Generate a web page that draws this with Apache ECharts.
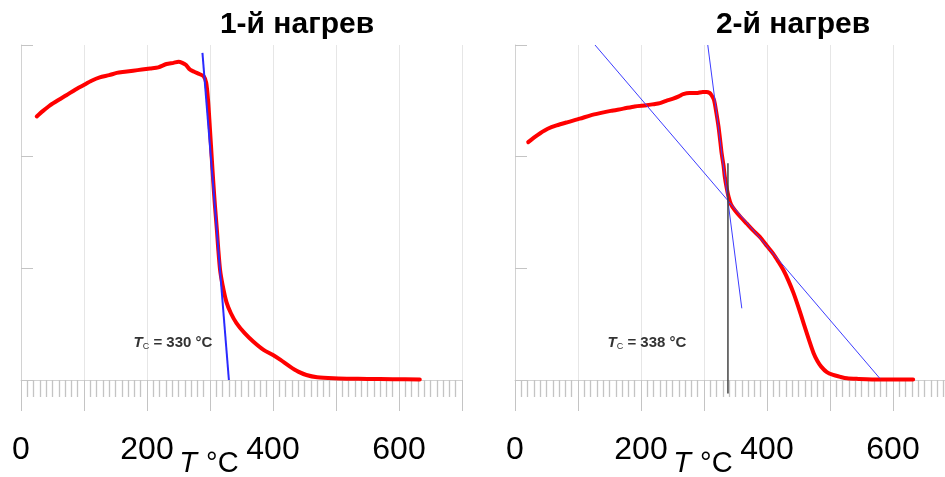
<!DOCTYPE html>
<html>
<head>
<meta charset="utf-8">
<script src="https://cdn.jsdelivr.net/npm/echarts@6/dist/echarts.min.js"></script>
<style>
html,body{margin:0;padding:0;background:#fff;overflow:hidden;width:945px;height:477px;}
#c{width:970px;height:477px;}
</style>
</head>
<body>
<div id="c"></div>
<script>
// ---- data ----
var titles = ['1-й нагрев', '2-й нагрев'];
var xTickLabels = ['0', '200', '400', '600'];
var tcValues = [330, 338];

var heat1T = [25, 35, 46, 60, 72, 86, 99, 112, 125, 140, 152, 165, 178, 192, 205, 218, 231, 242, 250, 256, 262, 268, 275, 283, 290, 294, 297, 300, 303, 305, 308, 311, 313, 316, 320, 326, 333, 342, 355, 369, 385, 400, 412, 427, 440, 453, 470, 496, 520, 550, 590, 633];
var heat1M = [2.36, 2.41, 2.46, 2.51, 2.55, 2.60, 2.64, 2.68, 2.71, 2.73, 2.75, 2.76, 2.77, 2.78, 2.79, 2.80, 2.83, 2.84, 2.85, 2.84, 2.82, 2.78, 2.76, 2.74, 2.72, 2.66, 2.50, 2.24, 1.97, 1.79, 1.55, 1.34, 1.18, 0.985, 0.85, 0.70, 0.60, 0.51, 0.42, 0.343, 0.27, 0.224, 0.18, 0.12, 0.075, 0.045, 0.025, 0.015, 0.012, 0.01, 0.007, 0.005];

var heat2T = [21, 30, 40, 52, 66, 84, 103, 120, 135, 152, 172, 190, 209, 220, 230, 240, 251, 260, 267, 277, 288, 298, 304, 309, 312, 315, 317, 320, 323, 326, 328, 331, 333, 336, 339, 343, 349, 358, 368, 378, 389, 400, 410, 418, 426, 434, 442, 450, 458, 466, 474, 480, 486, 495, 505, 515, 527, 545, 579, 632];
var heat2M = [2.13, 2.17, 2.21, 2.25, 2.28, 2.31, 2.34, 2.37, 2.39, 2.41, 2.43, 2.45, 2.46, 2.47, 2.48, 2.50, 2.52, 2.54, 2.56, 2.57, 2.57, 2.58, 2.58, 2.57, 2.55, 2.52, 2.48, 2.38, 2.27, 2.13, 2.03, 1.92, 1.82, 1.72, 1.64, 1.57, 1.52, 1.46, 1.40, 1.34, 1.28, 1.20, 1.13, 1.06, 0.985, 0.89, 0.78, 0.65, 0.51, 0.37, 0.24, 0.17, 0.12, 0.07, 0.045, 0.03, 0.015, 0.01, 0.005, 0.005];

var tangent1 = [[288, 2.93], [330, 0]];
var tangent2a = [[306, 3.0], [360, 0.642]];
var tangent2b = [[127, 3.0], [579, 0.015]];
var curieLine2 = [[338, 1.94], [338, -0.12]];

function zip(a, b) { return a.map(function (v, i) { return [v, b[i]]; }); }

var chart = echarts.init(document.getElementById('c'), null, {renderer: 'canvas'});
var FONT = 'Liberation Sans, Arial, sans-serif';
var gridColor = '#e6e6e6';
var axisColor = '#d2d2d2';
var tickColor = '#c4c4c4';

function xAxis(i) {
  return {
    gridIndex: i, type: 'value', min: 0, max: 700, interval: 100,
    axisLine: {show: true, lineStyle: {color: axisColor, width: 1}},
    axisTick: {show: true, inside: false, length: 31, lineStyle: {color: tickColor, width: 1}},
    minorTick: {show: true, splitNumber: 10, length: 17, lineStyle: {color: tickColor, width: 1.3}},
    splitLine: {show: true, lineStyle: {color: gridColor, width: 1}},
    axisLabel: {
      margin: 54, fontSize: 32, color: '#000', fontFamily: FONT,
      formatter: function (v) { var s = String(v); return xTickLabels.indexOf(s) >= 0 ? s : ''; }
    }
  };
}
function yAxis(i) {
  return {
    gridIndex: i, type: 'value', min: 0, max: 3, interval: 1,
    axisLine: {show: true, lineStyle: {color: axisColor, width: 1}},
    axisTick: {show: true, inside: true, length: 12, lineStyle: {color: tickColor, width: 1}},
    splitLine: {show: false},
    axisLabel: {show: false}
  };
}

var redStyle = {color: '#ff0000', width: 4, cap: 'round', join: 'round'};

function axisName(x) {
  return {type: 'text', z: 100, x: x, y: 464, style: {
    text: '{t|T}{n|°C}', textAlign: 'center', textVerticalAlign: 'middle',
    rich: {t: {fontStyle: 'italic', fontSize: 29, fontFamily: FONT, fill: '#000', padding: [0, 9, 0, 0]},
           n: {fontSize: 29, fontFamily: FONT, fill: '#000'}}
  }};
}
function tcLabel(x, v) {
  return {type: 'text', z: 100, x: x, y: 343, style: {
    text: '{t|T}{s|C}{n| = ' + v + ' °C}', textAlign: 'center', textVerticalAlign: 'middle',
    rich: {t: {fontStyle: 'italic', fontWeight: 'bold', fontSize: 15, fontFamily: FONT, fill: '#333'},
           s: {fontSize: 9, fontFamily: FONT, fill: '#333', padding: [7, 0, 0, 0]},
           n: {fontWeight: 'bold', fontSize: 15, fontFamily: FONT, fill: '#333'}}
  }};
}

var option = {
  animation: false,
  backgroundColor: '#ffffff',
  grid: [
    {left: 21, top: 45, width: 441, height: 335},
    {left: 515, top: 45, width: 441, height: 335}
  ],
  xAxis: [xAxis(0), xAxis(1)],
  yAxis: [yAxis(0), yAxis(1)],
  series: [
    {type: 'line', xAxisIndex: 0, yAxisIndex: 0, data: zip(heat1T, heat1M), showSymbol: false, smooth: 0.25, lineStyle: redStyle, z: 3},
    {type: 'line', xAxisIndex: 0, yAxisIndex: 0, data: tangent1, showSymbol: false, lineStyle: {color: '#2a2aff', width: 2}, z: 4},
    {type: 'line', xAxisIndex: 1, yAxisIndex: 1, data: zip(heat2T, heat2M), showSymbol: false, smooth: 0.25, lineStyle: redStyle, z: 3},
    {type: 'line', xAxisIndex: 1, yAxisIndex: 1, data: tangent2a, showSymbol: false, lineStyle: {color: '#3c3cff', width: 1}, z: 4},
    {type: 'line', xAxisIndex: 1, yAxisIndex: 1, data: tangent2b, showSymbol: false, lineStyle: {color: '#3c3cff', width: 1}, z: 4},
    {type: 'line', xAxisIndex: 1, yAxisIndex: 1, data: curieLine2, showSymbol: false, clip: false, lineStyle: {color: '#444444', width: 1.5}, z: 5}
  ],
  graphic: [
    {type: 'text', z: 100, x: 297, y: 25, style: {text: titles[0], font: 'bold 30px ' + FONT, fill: '#000', textAlign: 'center', textVerticalAlign: 'middle'}},
    {type: 'text', z: 100, x: 793, y: 25, style: {text: titles[1], font: 'bold 30px ' + FONT, fill: '#000', textAlign: 'center', textVerticalAlign: 'middle'}},
    axisName(209),
    axisName(703),
    tcLabel(173, tcValues[0]),
    tcLabel(647, tcValues[1])
  ]
};
chart.setOption(option);
</script>
</body>
</html>
